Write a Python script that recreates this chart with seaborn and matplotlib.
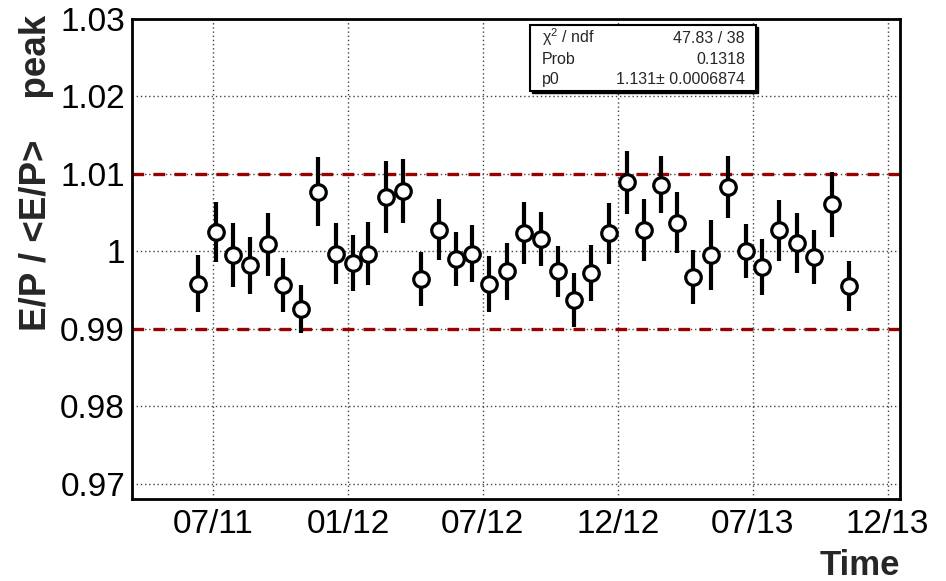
import matplotlib
matplotlib.use("Agg")
import matplotlib.pyplot as plt
import matplotlib.patches as mpatches
import numpy as np
import pandas as pd
import seaborn as sns

# ---- data (x in months since 07/2011) ----
months = [-0.67, 0.13, 0.89, 1.65, 2.45, 3.12, 3.92, 4.68, 5.48, 6.24,
          6.91, 7.71, 8.47, 9.27, 10.03, 10.79, 11.50, 12.26, 13.06, 13.82,
          14.58, 15.34, 16.05, 16.81, 17.61, 18.41, 19.17, 19.93, 20.64, 21.36,
          22.16, 22.92, 23.72, 24.43, 25.19, 25.95, 26.71, 27.51, 28.27]
ratio = [0.9958, 1.0025, 0.9995, 0.9982, 1.0009, 0.9956, 0.9925, 1.0077, 0.9997, 0.9985,
         0.9997, 1.0070, 1.0078, 0.9964, 1.0028, 0.9990, 0.9997, 0.9958, 0.9974, 1.0023,
         1.0016, 0.9974, 0.9937, 0.9972, 1.0023, 1.0089, 1.0028, 1.0086, 1.0037, 0.9967,
         0.9995, 1.0083, 1.0000, 0.9980, 1.0027, 1.0011, 0.9993, 1.0061, 0.9955]
err = [0.0037, 0.0039, 0.0041, 0.0037, 0.0041, 0.0035, 0.0031, 0.0045, 0.0039, 0.0036,
       0.0041, 0.0046, 0.0041, 0.0035, 0.0039, 0.0035, 0.0037, 0.0036, 0.0037, 0.0040,
       0.0035, 0.0033, 0.0035, 0.0036, 0.0039, 0.0041, 0.0040, 0.0037, 0.0039, 0.0035,
       0.0045, 0.0040, 0.0035, 0.0036, 0.0039, 0.0039, 0.0035, 0.0042, 0.0032]
xtick_pos = [0, 6, 12, 18, 24, 30]
xtick_labels = ["07/11", "01/12", "07/12", "12/12", "07/13", "12/13"]
ytick_pos = [0.97, 0.98, 0.99, 1.00, 1.01, 1.02, 1.03]
ytick_labels = ["0.97", "0.98", "0.99", "1", "1.01", "1.02", "1.03"]
band = [0.99, 1.01]
stats_names = ["χ$^{2}$ / ndf", "Prob", "p0"]
stats_values = ["47.83 / 38", "0.1318", "1.131± 0.0006874"]

df = pd.DataFrame({"month": months, "ratio": ratio, "err": err})

sns.set_style("white")
plt.rcParams["font.family"] = ["Liberation Sans", "DejaVu Sans"]
plt.rcParams["mathtext.fontset"] = "custom"
plt.rcParams["mathtext.rm"] = "Liberation Sans"
plt.rcParams["mathtext.it"] = "Liberation Sans"

W, H = 946, 581
fig = plt.figure(figsize=(W / 100, H / 100), dpi=100)
fig.patch.set_facecolor("white")
L, R, T, B = 132, 900, 19, 499
ax = fig.add_axes([L / W, 1 - B / H, (R - L) / W, (B - T) / H])

# grid
for xv in xtick_pos:
    ax.axvline(xv, color="#444444", lw=1.0, ls=(0, (1, 2)), zorder=0)
for yv in ytick_pos:
    ax.axhline(yv, color="#444444", lw=1.0, ls=(0, (1, 2)), zorder=0)

# band lines
for yv in band:
    ax.axhline(yv, color="#990000", lw=2.4, ls=(0, (3.5, 2.8)), zorder=1)

# error bars
ax.vlines(df["month"], df["ratio"] - df["err"], df["ratio"] + df["err"],
          color="black", lw=3.0, zorder=2)
sns.scatterplot(data=df, x="month", y="ratio", ax=ax, marker="o", s=125,
                facecolor="white", edgecolor="black", linewidth=2.3, zorder=3)

ax.set_xlim(-3.6, 30.55)
ax.set_ylim(0.9681, 1.03)
ax.set_xticks(xtick_pos)
ax.set_xticklabels(xtick_labels)
ax.set_xticks(np.arange(-2, 30.1, 2), minor=True)
ax.set_yticks(ytick_pos)
ax.set_yticklabels(ytick_labels)
ax.set_yticks(np.arange(0.968, 1.0301, 0.002), minor=True)
ax.tick_params(axis="both", which="major", direction="in", length=15, width=1.8,
               labelsize=24, colors="black")
ax.tick_params(axis="both", which="minor", direction="in", length=8, width=1.8)
ax.tick_params(axis="x", which="major", pad=7)
ax.tick_params(axis="y", which="major", pad=5)
ax.tick_params(top=False, right=False, which="both")
for s in ax.spines.values():
    s.set_visible(True)
    s.set_color("black")
    s.set_linewidth(2.0)
ax.set_xlabel("")
ax.set_ylabel("")

fig.text(R / W, 1 - 575 / H, "Time", ha="right", va="baseline",
         fontsize=25, fontweight="bold")
fig.text(37 / W, 1 - 15 / H, "E/P / <E/P>    peak", rotation=90, ha="center",
         va="top", fontsize=26.5, fontweight="bold")

# stats box
bx0, bx1, by0, by1 = 530, 756, 25, 91
shadow = mpatches.Rectangle((bx0 / W + 2 / W, 1 - (by1 + 2) / H), (bx1 - bx0) / W,
                            (by1 - by0) / H, transform=fig.transFigure,
                            facecolor="black", edgecolor="black", zorder=5)
fig.add_artist(shadow)
box = mpatches.Rectangle((bx0 / W, 1 - by1 / H), (bx1 - bx0) / W, (by1 - by0) / H,
                         transform=fig.transFigure, facecolor="white",
                         edgecolor="black", lw=1.5, zorder=6)
fig.add_artist(box)
rows_y = [43, 64, 84]
for name, val, yy in zip(stats_names, stats_values, rows_y):
    fig.text(542 / W, 1 - yy / H, name, ha="left", va="baseline", fontsize=11.5, zorder=7)
    fig.text(745 / W, 1 - yy / H, val, ha="right", va="baseline", fontsize=11.5, zorder=7)

fig.savefig("out.png", dpi=100)
